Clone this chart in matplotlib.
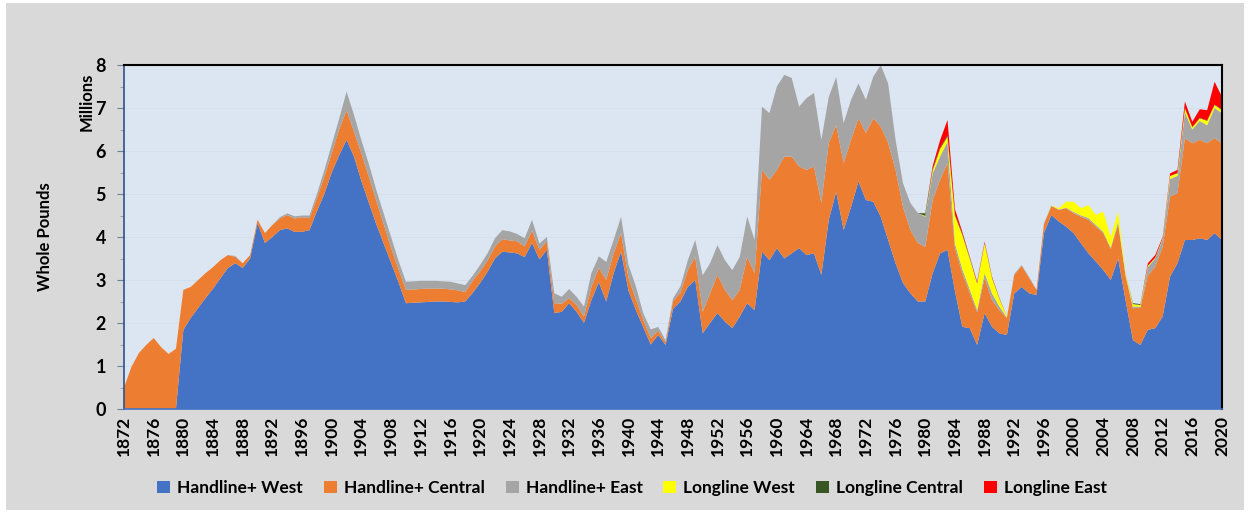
import matplotlib
matplotlib.use("Agg")
import matplotlib.pyplot as plt
import numpy as np
from matplotlib.patches import Rectangle

plt.rcParams["font.family"] = ["Lato", "DejaVu Sans"]
plt.rcParams["font.weight"] = "bold"

years = list(range(1872, 2021))

handline_west = [
    0, 0, 0, 0, 0, 0, 0, 0,
    1.84, 2.12, 2.35, 2.58, 2.8, 3.04, 3.28, 3.39, 3.28, 3.5,
    4.32, 3.86, 4.0, 4.16, 4.2, 4.12, 4.12, 4.16, 4.6, 5.0,
    5.5, 5.9, 6.26, 5.87, 5.3, 4.8, 4.3, 3.85, 3.4, 2.95,
    2.46, 2.47, 2.48, 2.49, 2.5, 2.5, 2.49, 2.48, 2.5, 2.7,
    2.93, 3.19, 3.5, 3.66, 3.64, 3.62, 3.53, 3.86, 3.48, 3.7,
    2.23, 2.26, 2.46, 2.26, 2.0, 2.53, 2.95, 2.5, 3.16, 3.66,
    2.75, 2.3, 1.9, 1.5, 1.72, 1.49, 2.33, 2.5, 2.84, 3.0,
    1.76, 2.0, 2.23, 2.03, 1.88, 2.15, 2.46, 2.3, 3.66, 3.46,
    3.74, 3.5, 3.62, 3.74, 3.58, 3.62, 3.12, 4.4, 5.05, 4.16,
    4.7, 5.29, 4.86, 4.82, 4.47, 3.93, 3.39, 2.93, 2.69, 2.5,
    2.5, 3.16, 3.62, 3.7, 2.75, 1.91, 1.88, 1.49, 2.23, 1.91,
    1.76, 1.72, 2.69, 2.84, 2.69, 2.65, 4.09, 4.51, 4.36, 4.24,
    4.09, 3.85, 3.62, 3.43, 3.23, 3.0, 3.5, 2.53, 1.6, 1.49,
    1.84, 1.88, 2.15, 3.08, 3.39, 3.93, 3.93, 3.97, 3.93, 4.09,
    3.93,
]
handline_central = [
    0.5, 0.98, 1.3, 1.49, 1.65, 1.44, 1.28, 1.4,
    0.93, 0.72, 0.65, 0.58, 0.5, 0.42, 0.3, 0.15, 0.11, 0.08,
    0.08, 0.23, 0.28, 0.27, 0.31, 0.31, 0.34, 0.28, 0.3, 0.4,
    0.45, 0.6, 0.69, 0.58, 0.65, 0.6, 0.55, 0.45, 0.35, 0.3,
    0.31, 0.31, 0.31, 0.31, 0.3, 0.3, 0.29, 0.28, 0.22, 0.28,
    0.27, 0.26, 0.28, 0.29, 0.28, 0.28, 0.25, 0.29, 0.22, 0.2,
    0.23, 0.19, 0.12, 0.16, 0.15, 0.31, 0.33, 0.5, 0.46, 0.43,
    0.3, 0.25, 0.17, 0.15, 0.1, 0.06, 0.18, 0.2, 0.39, 0.54,
    0.5, 0.69, 0.89, 0.74, 0.65, 0.62, 1.08, 0.86, 1.9, 1.87,
    1.82, 2.37, 2.25, 1.9, 1.98, 2.02, 1.67, 1.79, 1.55, 1.56,
    1.56, 1.47, 1.56, 1.94, 2.1, 2.26, 2.17, 1.77, 1.47, 1.36,
    1.27, 1.7, 1.71, 2.02, 1.0, 1.25, 0.82, 0.76, 0.82, 0.62,
    0.54, 0.4, 0.43, 0.49, 0.36, 0.12, 0.21, 0.21, 0.27, 0.43,
    0.46, 0.62, 0.78, 0.81, 0.86, 0.72, 0.8, 0.57, 0.74, 0.87,
    1.26, 1.43, 1.62, 1.86, 1.63, 2.37, 2.25, 2.29, 2.25, 2.21,
    2.25,
]
handline_east = [
    0, 0, 0, 0, 0, 0, 0, 0,
    0, 0, 0, 0, 0, 0, 0, 0.02, 0, 0,
    0, 0, 0, 0.03, 0.04, 0.05, 0.04, 0.06, 0.1, 0.15,
    0.2, 0.25, 0.43, 0.39, 0.3, 0.3, 0.25, 0.25, 0.25, 0.2,
    0.19, 0.19, 0.19, 0.18, 0.18, 0.17, 0.18, 0.16, 0.16, 0.12,
    0.15, 0.17, 0.19, 0.21, 0.21, 0.17, 0.19, 0.25, 0.15, 0.1,
    0.23, 0.16, 0.21, 0.19, 0.23, 0.32, 0.27, 0.42, 0.31, 0.38,
    0.3, 0.3, 0.15, 0.2, 0.09, 0.05, 0.06, 0.15, 0.23, 0.39,
    0.85, 0.7, 0.69, 0.69, 0.7, 0.77, 0.93, 0.77, 1.47, 1.55,
    1.94, 1.9, 1.83, 1.39, 1.67, 1.71, 1.47, 1.07, 1.12, 0.93,
    0.93, 0.81, 0.77, 0.97, 1.43, 1.38, 0.7, 0.55, 0.63, 0.7,
    0.7, 0.62, 0.54, 0.5, 0.1, 0.09, 0.08, 0.05, 0.11, 0.16,
    0.08, 0.01, 0.02, 0.02, 0.02, 0.0, 0.02, 0.01, 0.01, 0.01,
    0.03, 0.03, 0.04, 0.04, 0.03, 0.03, 0.05, 0.02, 0.04, 0.02,
    0.2, 0.19, 0.18, 0.41, 0.4, 0.6, 0.32, 0.44, 0.42, 0.7,
    0.7,
]

# longline series only start in 1980
longline_start = 1980
longline_west = [
    0.02, 0.07, 0.18, 0.11, 0.65, 0.8, 0.72, 0.62, 0.69, 0.36,
    0.18, 0.02, 0, 0, 0, 0, 0, 0.01, 0.03, 0.14,
    0.24, 0.17, 0.3, 0.23, 0.47, 0.25, 0.24, 0.04, 0.06, 0.04,
    0.03, 0.02, 0.02, 0.07, 0.06, 0.09, 0.05, 0.06, 0.1, 0.07,
    0.07,
]
longline_central = [
    0.06, 0.03, 0.02, 0.03, 0.02, 0.02, 0.02, 0.01, 0.01, 0.01,
    0.01, 0, 0, 0, 0, 0, 0, 0, 0, 0,
    0, 0, 0, 0, 0, 0, 0, 0, 0.02, 0.02,
    0, 0, 0, 0, 0.01, 0.01, 0.01, 0.01, 0.01, 0.01,
    0.01,
]
longline_east = [
    0, 0.07, 0.18, 0.36, 0.13, 0.05, 0.02, 0.03, 0.03, 0.02,
    0.01, 0, 0, 0, 0, 0, 0, 0, 0, 0,
    0, 0, 0, 0, 0, 0, 0, 0, 0, 0,
    0.06, 0.06, 0.03, 0.06, 0.07, 0.15, 0.12, 0.2, 0.24, 0.53,
    0.3,
]

labels = ["Handline+ West", "Handline+ Central", "Handline+ East",
          "Longline West", "Longline Central", "Longline East"]
colors = ["#4472c4", "#ed7d31", "#a5a5a5", "#ffff00", "#375623", "#ff0000"]

pad = [0] * (longline_start - years[0])
series = [
    handline_west,
    handline_central,
    handline_east,
    pad + longline_west,
    pad + longline_central,
    pad + longline_east,
]

W, H = 1251, 513
fig = plt.figure(figsize=(W / 100, H / 100), dpi=100, facecolor="white")
fig.patches.append(Rectangle((6 / W, 3 / H), 1238 / W, 507 / H,
                             transform=fig.transFigure, facecolor="#d9d9d9",
                             edgecolor="none", zorder=-10))

ax = fig.add_axes([124 / W, 1 - 409 / H, 1098 / W, 344 / H])
ax.set_facecolor("#dce6f2")
ax.stackplot(years, *series, colors=colors, labels=labels, linewidth=0)

ax.set_xlim(1872, 2020)
ax.set_ylim(0, 8)
ax.set_xticks(range(1872, 2021, 4))
ax.set_xticklabels([str(y) for y in range(1872, 2021, 4)], rotation=90,
                   fontsize=12.5, fontweight="bold")
ax.set_yticks(range(0, 9))
ax.set_yticks(np.arange(0, 8.01, 0.5), minor=True)
ax.set_yticklabels([str(v) for v in range(0, 9)], fontsize=13, fontweight="bold")
ax.tick_params(axis="x", length=0, pad=5)
ax.tick_params(axis="y", which="major", length=5, color="#6f7f99", pad=8)
ax.tick_params(axis="y", which="minor", length=3, color="#8896ad")
ax.grid(axis="y", color="#d5deea", linewidth=0.7)
ax.set_axisbelow(True)

for side in ("top", "right"):
    ax.spines[side].set_color("black")
    ax.spines[side].set_linewidth(1.5)
ax.spines["left"].set_color("#2f4f8f")
ax.spines["left"].set_linewidth(1.2)
ax.spines["bottom"].set_color("#4472c4")
ax.spines["bottom"].set_linewidth(1.2)

fig.text(87 / W, 1 - 102 / H, "Millions", rotation=90, ha="center", va="center",
         fontsize=12, fontweight="bold")
fig.text(45 / W, 1 - 237 / H, "Whole Pounds", rotation=90, ha="center",
         va="center", fontsize=12, fontweight="bold")

handles, leg_labels = ax.get_legend_handles_labels()
fig.legend(handles, leg_labels, loc="center", ncol=6,
           bbox_to_anchor=(632 / W, 1 - 488 / H), frameon=False,
           prop={"size": 12.5, "weight": "bold"}, handlelength=0.75,
           handleheight=0.75, handletextpad=0.4, columnspacing=1.2)

fig.savefig("out.png", dpi=100, facecolor=fig.get_facecolor())
